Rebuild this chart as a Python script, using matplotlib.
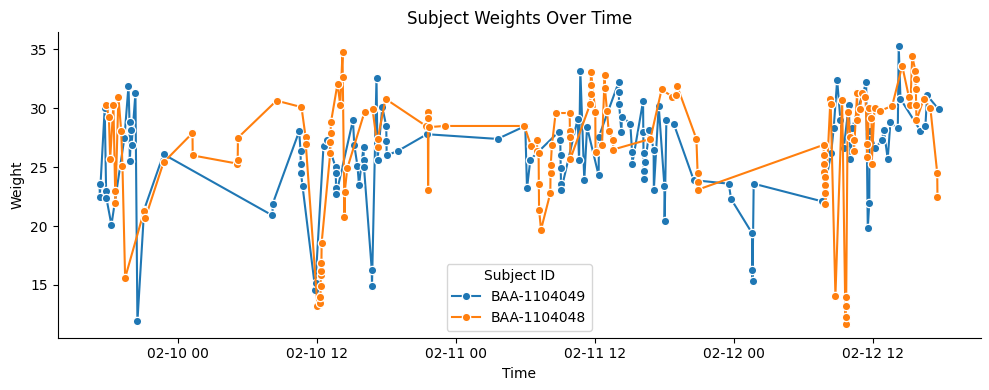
import matplotlib
matplotlib.use("Agg")
import matplotlib.pyplot as plt
import matplotlib.dates as mdates
import pandas as pd

base_time = "2024-02-10 00:00"
subjects = ["BAA-1104049", "BAA-1104048"]

# hours since 02-10 00:00 and weights, subject BAA-1104049
b_hours = [-6.74, -6.72, -6.30, -6.18, -6.16, -5.72, -4.60, -4.25, -4.16, -4.14, -4.00, -3.98, -3.65, -3.48,
           -2.90, -1.23, 8.17, 8.19, 10.47, 10.59, 10.61, 10.63, 10.76, 11.86, 11.88, 12.57, 12.86, 13.61,
           13.63, 13.65, 13.67, 15.11, 15.22, 15.50, 15.63, 16.02, 16.04, 16.06, 16.73, 16.75, 17.14, 17.23,
           17.64, 17.98, 18.00, 18.02, 19.02, 21.49, 27.58, 29.97, 30.12, 30.41, 32.85, 32.99, 33.01, 33.03,
           33.05, 33.07, 34.49, 34.61, 34.72, 35.06, 35.30, 36.30, 36.32, 38.02, 38.04, 38.06, 38.26, 38.30,
           39.03, 39.18, 39.20, 40.13, 40.15, 40.17, 40.19, 40.21, 40.33, 40.68, 41.04, 41.06, 41.48, 41.97,
           41.99, 42.14, 42.77, 44.50, 47.52, 47.72, 49.53, 49.55, 49.57, 49.67, 55.57, 56.35, 56.57, 56.87,
           57.15, 57.44, 57.87, 58.02, 58.16, 59.37, 59.51, 59.64, 59.66, 60.17, 60.75, 60.89, 61.23, 61.46,
           62.10, 62.18, 62.33, 64.05, 64.48, 64.63, 65.63]
b_weights = [23.6, 22.5, 30.0, 23.0, 22.4, 20.1, 27.5, 31.9, 28.8, 25.5, 28.2, 26.9, 31.3, 11.9, 21.4, 26.1,
             20.9, 21.9, 28.05, 26.4, 25.3, 24.5, 23.4, 14.6, 15.2, 26.8, 27.3, 25.0, 24.5, 23.2, 22.7, 29.0,
             26.9, 25.1, 23.5, 26.7, 25.65, 25.0, 16.3, 14.9, 32.6, 25.6, 30.1, 28.5, 27.2, 26.0, 26.4, 27.8,
             27.4, 28.5, 23.2, 25.65, 28.0, 27.3, 26.0, 24.9, 23.6, 23.05, 29.1, 25.6, 33.2, 23.9, 28.4, 24.3,
             27.6, 32.2, 31.4, 30.4, 28.0, 29.3, 28.7, 26.3, 25.3, 30.6, 28.0, 26.2, 24.7, 24.0, 25.45, 28.2,
             26.5, 23.1, 30.2, 23.4, 20.45, 29.0, 28.7, 23.9, 23.6, 22.3, 19.4, 16.3, 15.3, 23.6, 22.1, 26.2,
             28.3, 32.4, 29.0, 26.6, 30.3, 25.7, 28.3, 32.2, 19.8, 22.0, 28.1, 26.6, 27.35, 28.2, 25.7, 28.8,
             28.3, 35.3, 30.8, 28.1, 28.5, 31.1, 29.9]

# subject BAA-1104048
o_hours = [-6.18, -5.94, -5.83, -5.55, -5.40, -5.38, -5.12, -4.88, -4.77, -4.54, -2.90, -2.79, -1.23, 1.27,
           1.29, 5.15, 5.17, 5.19, 8.52, 10.67, 11.02, 11.04, 12.05, 12.29, 12.31, 12.33, 12.35, 12.37, 12.39,
           12.41, 13.15, 13.17, 13.19, 13.21, 13.78, 14.01, 14.21, 14.23, 14.38, 14.40, 14.62, 16.11, 16.80,
           17.23, 17.25, 17.92, 21.41, 21.55, 21.57, 21.59, 21.63, 23.01, 29.89, 30.47, 30.98, 31.00, 31.12,
           31.14, 31.16, 31.33, 32.13, 32.15, 32.17, 32.27, 32.59, 33.80, 33.82, 33.84, 33.86, 35.58, 35.60,
           35.62, 35.64, 36.01, 36.03, 36.59, 36.82, 36.84, 37.02, 37.16, 37.54, 37.56, 40.76, 41.73, 42.63,
           42.98, 43.06, 44.73, 44.84, 44.86, 44.88, 55.71, 55.73, 55.75, 55.77, 55.79, 55.81, 55.83, 55.85,
           56.29, 56.31, 56.72, 57.30, 57.59, 57.61, 57.63, 57.65, 57.78, 58.02, 58.30, 58.32, 58.59, 58.61,
           58.82, 59.03, 59.31, 59.46, 59.48, 59.60, 59.83, 59.85, 60.09, 60.60, 61.61, 62.48, 63.05, 63.19,
           63.34, 63.62, 63.64, 63.66, 63.68, 63.71, 64.34, 64.91, 65.50, 65.52]
o_weights = [30.3, 29.3, 25.7, 30.3, 23.0, 22.0, 31.0, 28.1, 25.1, 15.6, 21.3, 20.7, 25.4, 27.9, 26.0, 25.3,
             25.65, 27.5, 30.65, 30.1, 27.6, 27.0, 13.2, 13.45, 14.0, 14.9, 15.85, 16.2, 16.9, 18.6, 26.2, 27.1,
             27.9, 28.8, 32.1, 30.3, 34.75, 32.7, 20.8, 22.9, 24.9, 29.7, 29.9, 26.7, 27.4, 30.8, 28.5, 29.7,
             29.2, 23.05, 28.4, 28.5, 28.5, 26.8, 27.3, 26.4, 26.2, 23.6, 21.4, 19.7, 22.8, 24.5, 25.2, 26.9,
             29.6, 29.6, 28.1, 27.6, 25.7, 30.4, 31.25, 31.95, 33.1, 29.7, 26.3, 26.9, 32.8, 31.7, 29.8, 28.1,
             27.3, 26.5, 27.4, 31.6, 31.0, 31.1, 31.9, 27.4, 24.5, 23.75, 23.1, 26.9, 26.0, 25.3, 24.6, 24.2,
             23.5, 22.8, 21.9, 30.8, 30.4, 14.1, 30.7, 11.7, 12.3, 13.2, 14.0, 29.7, 27.6, 27.3, 26.4, 31.3,
             29.0, 29.9, 31.3, 31.0, 26.95, 25.9, 30.0, 29.2, 25.3, 30.0, 29.8, 30.2, 33.6, 31.0, 30.3, 34.4,
             33.2, 32.5, 31.6, 30.3, 29.0, 30.8, 30.0, 24.5, 22.5]

colors = ["#1f77b4", "#ff7f0e"]

t0 = pd.Timestamp(base_time)
series = [(b_hours, b_weights), (o_hours, o_weights)]

fig, ax = plt.subplots(figsize=(9.89, 3.9), dpi=100)
for (hrs, w), name, c in zip(series, subjects, colors):
    times = [t0 + pd.Timedelta(hours=h) for h in hrs]
    ax.plot(times, w, color=c, lw=1.5, marker="o", markersize=6,
            markeredgecolor="white", markeredgewidth=0.9, label=name)

ax.xaxis.set_major_locator(mdates.HourLocator(byhour=[0, 12]))
ax.xaxis.set_major_formatter(mdates.DateFormatter("%m-%d %H"))
ax.set_title("Subject Weights Over Time")
ax.set_xlabel("Time")
ax.set_ylabel("Weight")
ax.spines["top"].set_visible(False)
ax.spines["right"].set_visible(False)
ax.legend(title="Subject ID", loc="lower center")
fig.subplots_adjust(left=0.0583, right=0.9916, top=0.918, bottom=0.134)
fig.savefig("out.png", dpi=100)
